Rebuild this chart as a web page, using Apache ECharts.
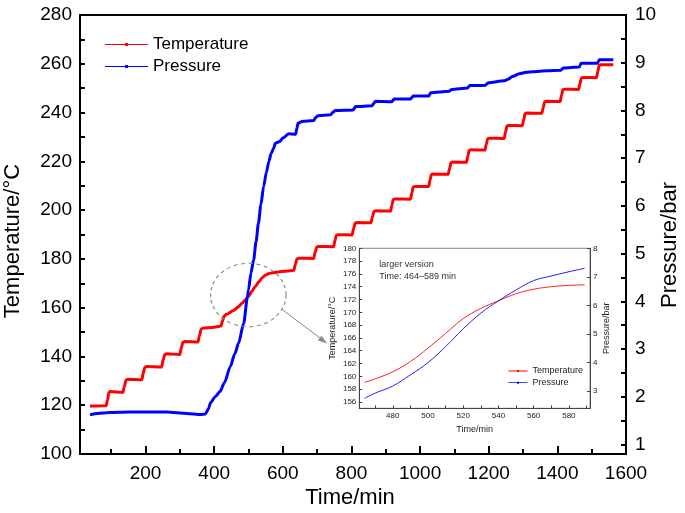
<!DOCTYPE html>
<html>
<head>
<meta charset="utf-8">
<script src="https://cdn.jsdelivr.net/npm/echarts@6/dist/echarts.min.js"></script>
<style>html,body{margin:0;padding:0;background:#fff;}#c{width:685px;height:513px;}</style>
</head>
<body>
<div id="c"></div>
<script>
// ---------- main chart data ----------
const tempTime = [38,85,89,93,97,134,138,143,148,189,193,198,203,247,251,256,261,300,304,309,314,353,357,362,367,395,420,424,429,436,456,470,481,490,500,510,520,530,540,550,560,570,590,622,632,636,641,646,690,694,699,704,748,752,756,761,802,806,811,816,857,861,866,871,914,918,922,927,972,976,980,985,1025,1029,1033,1038,1082,1086,1090,1095,1135,1139,1143,1148,1189,1193,1197,1202,1245,1249,1253,1258,1298,1302,1306,1311,1355,1359,1363,1368,1408,1412,1416,1421,1462,1466,1470,1475,1514,1518,1522,1527,1563];
const tempValues = [119.7,119.8,122,125.2,125.6,125.3,127.5,130.3,130.6,130.4,133,135.6,135.9,135.7,138.5,140.8,141.1,140.8,143.5,145.8,146.1,145.9,148.5,151.2,151.6,151.9,152.5,154.5,156.6,157.3,158.8,160.3,161.8,163,164.6,166.8,168.7,170.6,172.3,173.4,174,174.3,174.7,175.1,175.3,177.5,180,180.3,180.2,182.6,184.9,185.1,185,187.5,189.7,189.9,189.8,192.4,194.7,194.9,194.8,197.3,199.5,199.7,199.6,202,204.4,204.6,204.5,207,209.5,209.7,209.7,212.3,214.6,214.8,214.7,217.2,219.5,219.7,219.6,222.2,224.5,224.7,224.6,227,229.3,229.5,229.4,232,234.5,234.7,234.6,237.2,239.6,239.8,239.7,242.1,244.4,244.6,244.5,247,249.4,249.6,249.5,252,254.2,254.4,254.3,257,259.4,259.6,259.6];
const presTime = [38,60,96,150,262,300,359,375,383,390,403,417,430,447,460,471,486,497,500,507,515,522,529,536,544,552,559,566,573,578,591,600,617,637,641,644,656,690,696,702,739,746,753,805,809,812,860,865,870,917,921,924,972,976,980,1025,1028,1031,1084,1088,1092,1138,1142,1145,1191,1195,1199,1245,1255,1269,1289,1310,1328,1370,1410,1414,1417,1464,1467,1469,1517,1520,1522,1563];
const presValues = [1.62,1.65,1.67,1.68,1.68,1.66,1.63,1.64,1.75,1.88,2.0,2.11,2.3,2.63,2.9,3.12,3.54,4.1,4.24,4.59,4.87,5.25,5.64,6.02,6.4,6.7,6.92,7.1,7.2,7.31,7.35,7.42,7.51,7.5,7.62,7.73,7.77,7.79,7.85,7.89,7.91,7.96,8.0,8.01,8.05,8.08,8.1,8.15,8.19,8.18,8.21,8.24,8.24,8.27,8.3,8.3,8.34,8.37,8.4,8.42,8.44,8.47,8.5,8.52,8.53,8.56,8.58,8.62,8.65,8.71,8.77,8.8,8.81,8.83,8.84,8.87,8.89,8.91,8.95,8.99,8.99,9.03,9.06,9.06];

// ---------- inset data ----------
const insetTime = [464,470,480,490,500,510,520,530,540,550,560,570,580,589];
const insetTemp = [159.06,159.6,160.7,162.3,164.4,166.7,169.0,170.6,171.8,172.9,173.6,174.0,174.2,174.3];
const insetPres = [2.75,2.93,3.18,3.57,4.0,4.56,5.18,5.73,6.16,6.54,6.87,7.03,7.18,7.3];

// ---------- tick labels ----------
const xMainLabels = [200,400,600,800,1000,1200,1400,1600];
const xMainMinor = [100,300,500,700,900,1100,1300,1500];
const yTempLabels = [100,120,140,160,180,200,220,240,260,280];
const yTempTicks = [100,110,120,130,140,150,160,170,180,190,200,210,220,230,240,250,260,270,280];
const yPresLabels = [1,2,3,4,5,6,7,8,9,10];
const yPresTicks = [1,1.5,2,2.5,3,3.5,4,4.5,5,5.5,6,6.5,7,7.5,8,8.5,9,9.5,10];
const xInsetLabels = [480,500,520,540,560,580];
const xInsetTicks = [470,480,490,500,510,520,530,540,550,560,570,580,590];
const yInsetTempLabels = [156,158,160,162,164,166,168,170,172,174,176,178,180];
const yInsetPresLabels = [3,4,5,6,7,8];

const FONT = '"Liberation Sans", Arial, Helvetica, sans-serif';
const zip = (a, b) => a.map((v, i) => [v, b[i]]);
const plain = v => String(v);

const chart = echarts.init(document.getElementById('c'), null, {renderer: 'canvas'});

const mainIcon = 'path://M0,1.5H43V2.5H0Z M20,0.5H23V3.5H20Z';
const insetIcon = 'path://M0,0.6H19V1.4H0Z M8.5,0H10.5V2H8.5Z';

const option = {
  animation: false,
  backgroundColor: '#fff',
  textStyle: {fontFamily: FONT},
  grid: [
    {left: 80, top: 15, width: 546, height: 439, show: true, borderColor: '#000', borderWidth: 2, backgroundColor: 'transparent'},
    {left: 359.3, top: 248.3, width: 230.7, height: 160, show: true, borderColor: '#888', borderWidth: 1, backgroundColor: '#fff'}
  ],
  legend: [
    {
      left: 105, top: 36, orient: 'vertical', padding: 0,
      itemWidth: 43, itemHeight: 17, itemGap: 5,
      itemStyle: {borderWidth: 0},
      textStyle: {fontSize: 17, color: '#000', fontFamily: FONT, lineHeight: 17},
      data: [{name: 'Temperature', icon: mainIcon}, {name: 'Pressure', icon: mainIcon}]
    },
    {
      left: 508.5, top: 366.5, orient: 'vertical', padding: 0,
      itemWidth: 19, itemHeight: 9, itemGap: 2.7,
      itemStyle: {borderWidth: 0},
      textStyle: {fontSize: 9, color: '#222', fontFamily: FONT, lineHeight: 9},
      data: [{name: 'Temperature', icon: insetIcon}, {name: 'Pressure', icon: insetIcon}]
    }
  ],
  xAxis: [
    {
      gridIndex: 0, type: 'value', min: 9, max: 1600, position: 'bottom',
      axisLine: {lineStyle: {color: '#000', width: 2}},
      axisTick: {inside: true, length: 8, customValues: xMainLabels, lineStyle: {color: '#000', width: 2}},
      axisLabel: {customValues: xMainLabels, formatter: plain, fontSize: 19, color: '#000', margin: 10, fontFamily: FONT},
      splitLine: {show: false}
    },
    {
      gridIndex: 0, type: 'value', min: 9, max: 1600, position: 'bottom',
      axisLine: {show: false},
      axisTick: {inside: true, length: 5, customValues: xMainMinor, lineStyle: {color: '#000', width: 2}},
      axisLabel: {show: false},
      splitLine: {show: false}
    },
    {
      gridIndex: 1, type: 'value', min: 461, max: 592, position: 'bottom',
      name: 'Time/min', nameLocation: 'middle', nameGap: 17,
      nameTextStyle: {fontSize: 9, color: '#222', fontFamily: FONT},
      axisLine: {lineStyle: {color: '#444', width: 1}},
      axisTick: {inside: true, length: 3, customValues: xInsetTicks, lineStyle: {color: '#444', width: 1}},
      axisLabel: {customValues: xInsetLabels, formatter: plain, fontSize: 8, color: '#222', margin: 3, fontFamily: FONT},
      splitLine: {show: false}
    }
  ],
  yAxis: [
    {
      gridIndex: 0, type: 'value', min: 100, max: 280, position: 'left',
      axisLine: {show: true, lineStyle: {color: '#000', width: 2}},
      axisTick: {show: true, inside: true, length: 5, customValues: yTempTicks, lineStyle: {color: '#000', width: 2}},
      axisLabel: {customValues: yTempLabels, formatter: plain, fontSize: 19, color: '#000', margin: 8, fontFamily: FONT},
      splitLine: {show: false}
    },
    {
      gridIndex: 0, type: 'value', min: 0.8, max: 10, position: 'right',
      axisLine: {show: true, lineStyle: {color: '#000', width: 2}},
      axisTick: {show: true, inside: true, length: 5, customValues: yPresTicks, lineStyle: {color: '#000', width: 2}},
      axisLabel: {customValues: yPresLabels, formatter: plain, fontSize: 19, color: '#000', margin: 9, fontFamily: FONT},
      splitLine: {show: false}
    },
    {
      gridIndex: 1, type: 'value', min: 155, max: 180, position: 'left',
      name: 'Temperature/°C', nameLocation: 'middle', nameGap: 22,
      nameTextStyle: {fontSize: 9, color: '#222', fontFamily: FONT},
      axisLine: {show: true, lineStyle: {color: '#444', width: 1}},
      axisTick: {show: true, inside: true, length: 3, customValues: yInsetTempLabels, lineStyle: {color: '#444', width: 1}},
      axisLabel: {customValues: yInsetTempLabels, formatter: plain, fontSize: 8, color: '#222', margin: 3, fontFamily: FONT},
      splitLine: {show: false}
    },
    {
      gridIndex: 1, type: 'value', min: 2.4, max: 8, position: 'right',
      name: 'Pressure/bar', nameLocation: 'middle', nameGap: 12.5,
      nameTextStyle: {fontSize: 9, color: '#222', fontFamily: FONT},
      axisLine: {show: true, lineStyle: {color: '#444', width: 1}},
      axisTick: {show: true, inside: true, length: 3, customValues: yInsetPresLabels, lineStyle: {color: '#444', width: 1}},
      axisLabel: {customValues: yInsetPresLabels, formatter: plain, fontSize: 8, color: '#222', margin: 3, fontFamily: FONT},
      splitLine: {show: false}
    }
  ],
  series: [
    {
      name: 'Temperature', type: 'line', xAxisIndex: 0, yAxisIndex: 0,
      data: zip(tempTime, tempValues), symbol: 'rect', symbolSize: 3, showSymbol: false,
      smooth: 0.25, smoothMonotone: 'x',
      itemStyle: {color: '#ff0000'}, lineStyle: {color: '#ff0000', width: 3}
    },
    {
      name: 'Pressure', type: 'line', xAxisIndex: 0, yAxisIndex: 1,
      data: zip(presTime, presValues), symbol: 'rect', symbolSize: 3, showSymbol: false,
      smooth: 0.25, smoothMonotone: 'x',
      itemStyle: {color: '#0000ff'}, lineStyle: {color: '#0000ff', width: 3}
    },
    {
      name: 'Temperature', type: 'line', xAxisIndex: 2, yAxisIndex: 2,
      data: zip(insetTime, insetTemp), symbol: 'rect', symbolSize: 2, showSymbol: false,
      smooth: 0.4,
      itemStyle: {color: '#ff2020'}, lineStyle: {color: '#ff2020', width: 1}
    },
    {
      name: 'Pressure', type: 'line', xAxisIndex: 2, yAxisIndex: 3,
      data: zip(insetTime, insetPres), symbol: 'rect', symbolSize: 2, showSymbol: false,
      smooth: 0.4,
      itemStyle: {color: '#2020ff'}, lineStyle: {color: '#2020ff', width: 1}
    }
  ],
  graphic: [
    {type: 'text', x: 12.5, y: 241, rotation: Math.PI / 2, z: 10,
     style: {text: 'Temperature/°C', font: '22px ' + FONT, fill: '#000', align: 'center', verticalAlign: 'middle'}},
    {type: 'text', x: 670, y: 245, rotation: Math.PI / 2, z: 10,
     style: {text: 'Pressure/bar', font: '22px ' + FONT, fill: '#000', align: 'center', verticalAlign: 'middle'}},
    {type: 'text', x: 350, y: 498, z: 10,
     style: {text: 'Time/min', font: '22px ' + FONT, fill: '#000', align: 'center', verticalAlign: 'middle'}},
    {type: 'circle', x: 248.3, y: 295, scaleX: 1.19, scaleY: 1, z: 10,
     shape: {cx: 0, cy: 0, r: 31.7},
     style: {fill: 'none', stroke: '#888', lineWidth: 1, lineDash: [3.5, 3]}},
    {type: 'line', z: 10, shape: {x1: 281.5, y1: 309, x2: 320, y2: 338},
     style: {stroke: '#888', lineWidth: 1}},
    {type: 'polygon', z: 10, shape: {points: [[327, 343.5], [317.9, 340.6], [321.5, 335.8]]},
     style: {fill: '#888'}},
    {type: 'text', x: 379.3, y: 265, z: 10,
     style: {text: 'larger version', font: '9px ' + FONT, fill: '#333', align: 'left', verticalAlign: 'middle'}},
    {type: 'text', x: 379.3, y: 276.7, z: 10,
     style: {text: 'Time: 464–589 min', font: '9px ' + FONT, fill: '#333', align: 'left', verticalAlign: 'middle'}}
  ]
};

chart.setOption(option);
</script>
</body>
</html>
